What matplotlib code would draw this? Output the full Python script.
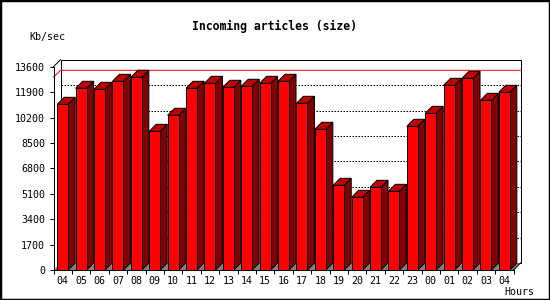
import matplotlib
matplotlib.use("Agg")
import matplotlib.pyplot as plt
from matplotlib.patches import Polygon, Rectangle
import numpy as np

# data (Kb/sec per hour)
hours = ['04', '05', '06', '07', '08', '09', '10', '11', '12', '13', '14', '15',
         '16', '17', '18', '19', '20', '21', '22', '23', '00', '01', '02', '03', '04']
values = [11085, 12155, 12088, 12623, 12891, 9278, 10349, 12155, 12489, 12222,
          12289, 12489, 12623, 11151, 9412, 5666, 4863, 5532, 5265, 9613,
          10482, 12356, 12824, 11352, 11887]
yticks = [0, 1700, 3400, 5100, 6800, 8500, 10200, 11900, 13600]

W, H = 550, 300
fig = plt.figure(figsize=(W / 100, H / 100), dpi=100)
fig.patch.set_facecolor('white')

# front plane of the 3d box, in pixels
left_px, right_px, top_px, bot_px = 53.5, 513.5, 66.7, 270
ax = fig.add_axes([left_px / W, 1 - bot_px / H, (right_px - left_px) / W, (bot_px - top_px) / H])
ax.set_facecolor('none')

n = len(values)
ymax = yticks[-1]
ax.set_xlim(-0.5, n - 0.5)
ax.set_ylim(0, ymax)

# depth of 7 px turned into data units
depth = 7
dx = depth / ((right_px - left_px) / n)
dy = depth * ymax / (bot_px - top_px)
px = 0.72  # one pixel in points

x = np.arange(n)
x0, x1 = -0.5, n - 0.5

# back wall
ax.add_patch(Rectangle((x0 + dx, dy), n, ymax, facecolor='white', edgecolor='black',
                       lw=px, clip_on=False, zorder=1))
for v in yticks[1:-1]:
    ax.plot([x0 + dx, x1 + dx], [v + dy, v + dy], color='black', lw=px,
            linestyle=(0, (1.5, 1.5)), clip_on=False, zorder=2)

# max line on left wall + back wall
vmax = max(values)
ax.plot([x0, x0 + dx, x1 + dx], [vmax, vmax + dy, vmax + dy], color='red', lw=px,
        clip_on=False, zorder=2)

# floor
ax.add_patch(Polygon([(x0, 0), (x1, 0), (x1 + dx, dy), (x0 + dx, dy)], closed=True,
                     facecolor='#808080', edgecolor='none', clip_on=False, zorder=2))

# box edges
ax.plot([x0, x0 + dx], [ymax, ymax + dy], color='black', lw=px, clip_on=False, zorder=2)
ax.plot([x1, x1 + dx], [0, dy], color='black', lw=px, clip_on=False, zorder=2)

# bars
bw = 0.6
ax.bar(x, values, width=bw, color='#ff0000', edgecolor='black', linewidth=px, zorder=4)
for xi, v in zip(x, values):
    l, r = xi - bw / 2, xi + bw / 2
    side = [(r, 0), (r + dx, dy), (r + dx, v + dy), (r, v)]
    top = [(l, v), (r, v), (r + dx, v + dy), (l + dx, v + dy)]
    ax.add_patch(Polygon(side, closed=True, facecolor='#800000', edgecolor='black',
                         lw=px, clip_on=False, zorder=3))
    ax.add_patch(Polygon(top, closed=True, facecolor='#c00000', edgecolor='black',
                         lw=px, clip_on=False, zorder=3))

# axes and ticks
for s in ['top', 'right']:
    ax.spines[s].set_visible(False)
for s in ['left', 'bottom']:
    ax.spines[s].set_linewidth(px)
    ax.spines[s].set_zorder(5)

mono = 'DejaVu Sans Mono'
ax.set_yticks(yticks)
ax.set_yticklabels([str(t) for t in yticks], family=mono, fontsize=7.2)
ax.tick_params(axis='y', direction='out', length=3, width=px, pad=3)

ax.set_xticks(np.arange(n + 1) - 0.5)
ax.set_xticklabels([])
ax.set_xticks(x, minor=True)
ax.set_xticklabels(hours, minor=True, family=mono, fontsize=7.2)
ax.tick_params(axis='x', which='major', direction='out', length=3, width=px)
ax.tick_params(axis='x', which='minor', length=0, pad=4.5)

fig.text(274 / W, 1 - 26.7 / H, 'Incoming articles (size)', ha='center', va='center',
         family=mono, fontweight='bold', fontsize=8.3)
fig.text(47 / W, 1 - 36.7 / H, 'Kb/sec', ha='center', va='center', family=mono, fontsize=7.2)
fig.text(519 / W, 1 - 292 / H, 'Hours', ha='center', va='center', family=mono, fontsize=7.2)

# outer frame
fig.add_artist(Rectangle((0, 0), 1, 1, transform=fig.transFigure, fill=False,
                         edgecolor='black', lw=2.5))

fig.savefig('out.png', dpi=100)
